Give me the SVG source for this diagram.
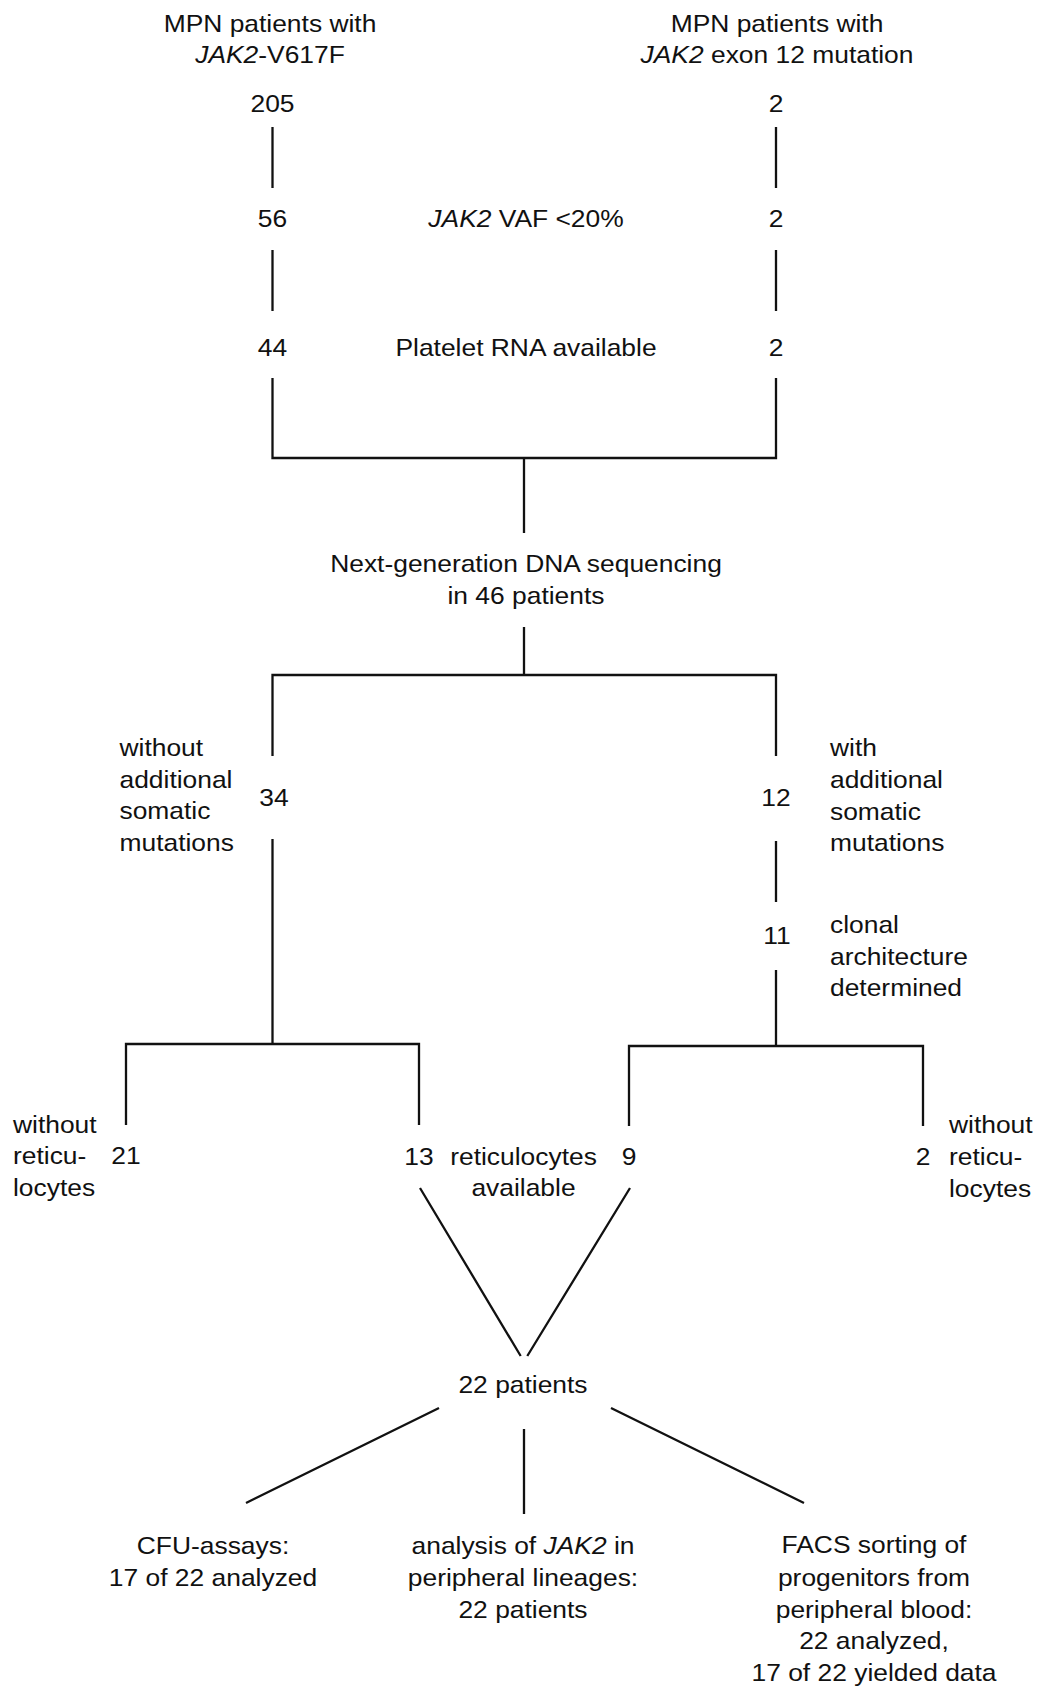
<svg xmlns="http://www.w3.org/2000/svg" width="1037" height="1689" viewBox="0 0 1037 1689">
<style>
text{font-family:"Liberation Sans",Arial,Helvetica,sans-serif;font-size:24px;fill:#111}
.m{text-anchor:middle}
.s{text-anchor:start}
.i{font-style:italic}
.c{fill:none;stroke:#111;stroke-width:2.3;stroke-linecap:butt;stroke-linejoin:miter}
</style>
<rect width="1037" height="1689" fill="#fff"/>
<g id="connectors">
<path class="c" d="M272.5 127V188M272.5 250V311M776 127V188M776 250V311"/>
<path class="c" d="M272.5 378V458H776V378M524 458V533"/>
<path class="c" d="M524 627V675M272.5 756V675H776V756"/>
<path class="c" d="M776 841V902M776 970V1046M272.5 839V1044"/>
<path class="c" d="M126 1125V1044H419V1125M629 1126V1046H923V1126"/>
<path class="c" d="M420 1188L520.7 1356M630 1188L527.3 1356"/>
<path class="c" d="M439 1408L246 1503M524 1429V1514M611 1408L804 1503"/>
</g>
<g id="title-left" transform="translate(270,0) scale(1.1,1)">
<text class="m" x="0" y="31.7">MPN patients with</text>
<text class="m" x="0" y="63.3"><tspan class="i">JAK2</tspan>-V617F</text>
</g>
<g id="title-right" transform="translate(777,0) scale(1.1,1)">
<text class="m" x="0" y="31.7">MPN patients with</text>
<text class="m" x="0" y="63.3"><tspan class="i">JAK2</tspan> exon 12 mutation</text>
</g>
<g id="n205" transform="translate(272.5,0) scale(1.1,1)"><text class="m" x="0" y="112">205</text></g>
<g id="n2a" transform="translate(776,0) scale(1.1,1)"><text class="m" x="0" y="112">2</text></g>
<g id="n56" transform="translate(272.5,0) scale(1.1,1)"><text class="m" x="0" y="227">56</text></g>
<g id="vaf" transform="translate(526,0) scale(1.1,1)"><text class="m" x="0" y="227"><tspan class="i">JAK2</tspan> VAF &lt;20%</text></g>
<g id="n2b" transform="translate(776,0) scale(1.1,1)"><text class="m" x="0" y="227">2</text></g>
<g id="n44" transform="translate(272.5,0) scale(1.1,1)"><text class="m" x="0" y="356">44</text></g>
<g id="rna" transform="translate(526,0) scale(1.1,1)"><text class="m" x="0" y="356">Platelet RNA available</text></g>
<g id="n2c" transform="translate(776,0) scale(1.1,1)"><text class="m" x="0" y="356">2</text></g>
<g id="ngs" transform="translate(526,0) scale(1.1,1)">
<text class="m" x="0" y="572.5">Next-generation DNA sequencing</text>
<text class="m" x="0" y="604">in 46 patients</text>
</g>
<g id="n34" transform="translate(274,0) scale(1.1,1)"><text class="m" x="0" y="806">34</text></g>
<g id="without-add" transform="translate(119.5,0) scale(1.1,1)">
<text class="s" x="0" y="756">without</text>
<text class="s" x="0" y="788">additional</text>
<text class="s" x="0" y="819.5">somatic</text>
<text class="s" x="0" y="851">mutations</text>
</g>
<g id="n12" transform="translate(776,0) scale(1.1,1)"><text class="m" x="0" y="806">12</text></g>
<g id="with-add" transform="translate(830,0) scale(1.1,1)">
<text class="s" x="0" y="756.5">with</text>
<text class="s" x="0" y="788.5">additional</text>
<text class="s" x="0" y="820">somatic</text>
<text class="s" x="0" y="851.5">mutations</text>
</g>
<g id="n11" transform="translate(777,0) scale(1.1,1)"><text class="m" x="0" y="944">11</text></g>
<g id="clonal" transform="translate(830,0) scale(1.1,1)">
<text class="s" x="0" y="933">clonal</text>
<text class="s" x="0" y="965">architecture</text>
<text class="s" x="0" y="996.5">determined</text>
</g>
<g id="without-ret-left" transform="translate(13,0) scale(1.1,1)">
<text class="s" x="0" y="1133">without</text>
<text class="s" x="0" y="1164.5">reticu-</text>
<text class="s" x="0" y="1196">locytes</text>
</g>
<g id="n21" transform="translate(126,0) scale(1.1,1)"><text class="m" x="0" y="1164.5">21</text></g>
<g id="n13" transform="translate(419,0) scale(1.1,1)"><text class="m" x="0" y="1165">13</text></g>
<g id="ret-avail" transform="translate(523.5,0) scale(1.1,1)">
<text class="m" x="0" y="1165">reticulocytes</text>
<text class="m" x="0" y="1196">available</text>
</g>
<g id="n9" transform="translate(629,0) scale(1.1,1)"><text class="m" x="0" y="1165">9</text></g>
<g id="n2d" transform="translate(923,0) scale(1.1,1)"><text class="m" x="0" y="1165">2</text></g>
<g id="without-ret-right" transform="translate(949,0) scale(1.1,1)">
<text class="s" x="0" y="1133">without</text>
<text class="s" x="0" y="1165">reticu-</text>
<text class="s" x="0" y="1197">locytes</text>
</g>
<g id="n22" transform="translate(523,0) scale(1.1,1)"><text class="m" x="0" y="1393">22 patients</text></g>
<g id="cfu" transform="translate(213,0) scale(1.1,1)">
<text class="m" x="0" y="1554">CFU-assays:</text>
<text class="m" x="0" y="1586">17 of 22 analyzed</text>
</g>
<g id="analysis" transform="translate(523,0) scale(1.1,1)">
<text class="m" x="0" y="1554">analysis of <tspan class="i">JAK2</tspan> in</text>
<text class="m" x="0" y="1586">peripheral lineages:</text>
<text class="m" x="0" y="1618">22 patients</text>
</g>
<g id="facs" transform="translate(874,0) scale(1.1,1)">
<text class="m" x="0" y="1553">FACS sorting of</text>
<text class="m" x="0" y="1586">progenitors from</text>
<text class="m" x="0" y="1618">peripheral blood:</text>
<text class="m" x="0" y="1649">22 analyzed,</text>
<text class="m" x="0" y="1681">17 of 22 yielded data</text>
</g>
</svg>
